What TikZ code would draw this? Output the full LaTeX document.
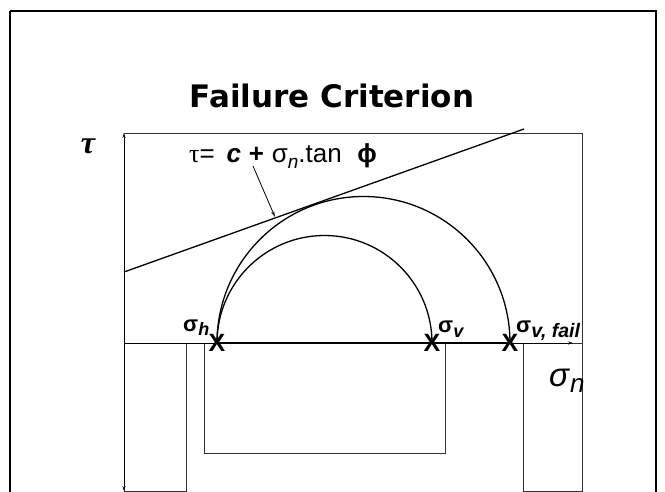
\documentclass[tikz,border=0pt]{standalone}
\usepackage{fontspec}
\setmainfont{Liberation Sans}
\newfontfamily\titlefont{DejaVu Sans}
\newfontfamily\seriffont{Liberation Serif}
\usetikzlibrary{arrows.meta}
\tikzset{
  frame/.style={line width=2.6pt,black},
  thin/.style={line width=0.7pt,black!80},
  axisline/.style={line width=0.9pt,black},
  curve/.style={line width=1.3pt,black},
  xmark/.style={font=\bfseries\fontsize{25}{25}\selectfont,inner sep=0pt},
  lbl/.style={font=\bfseries\fontsize{22}{22}\selectfont,inner sep=0pt,anchor=base west},
}
\begin{document}
\begin{tikzpicture}[x=1pt,y=-1pt]
\useasboundingbox (0,0) rectangle (665,492);
% frame
\draw[frame] (10,11) -- (656,11) -- (656,505);
\draw[frame] (10,11) -- (10,505);
% title
\node (title) at (332,96) {\titlefont\bfseries\fontsize{31}{31}\selectfont Failure Criterion};
% coordinates
\coordinate (O) at (124,343);
\coordinate (Ttop) at (124,133);
\coordinate (Tbot) at (124,491);
\coordinate (Send) at (573,343);
\coordinate (H) at (217,343);
\coordinate (V) at (432,343);
\coordinate (F) at (510,343);
% background boxes
\draw[thin] (Ttop) -- (582,133) -- (582,491);
\draw[thin] (124,343) rectangle (186,491);
\draw[thin] (204,343) rectangle (445,453);
\draw[thin] (523,343) rectangle (582,491);
% axes
\draw[axisline,{Stealth[length=5pt,width=3pt]}-{Stealth[length=5pt,width=3pt]}] (Ttop) -- (Tbot);
\draw[axisline,-{Stealth[length=5pt,width=3pt]}] (O) -- (Send);
\draw[line width=1.6pt] (H) -- (F);
% circles
\draw[curve] (H) arc[start angle=180,end angle=360,radius=107.5];
\draw[curve] (H) arc[start angle=180,end angle=360,radius=146.5];
% failure envelope
\coordinate (L0) at (124,272);
\coordinate (L1) at (524,129);
\draw[curve] (L0) -- (L1);
% labels
\node (tau) at (88,146) {\seriffont\bfseries\itshape\fontsize{32}{32}\selectfont τ};
\node[inner sep=0pt,anchor=base west] (eq) at (189,163) {\fontsize{26}{26}\selectfont {\seriffont τ}=\hspace{0.45em}\textbf{\textit{c}}\hspace{0.3em}\textbf{+}\hspace{0.3em}σ\raisebox{-0.4ex}{\textit{\fontsize{19}{19}\selectfont n}}.tan\hspace{0.6em}\textbf{ϕ}};
\coordinate (tp) at (275,217);
\draw[line width=0.8pt,-{Stealth[length=6pt,width=3pt]}] (253,166) -- (tp);
\node[xmark] (xh) at (H) {X};
\node[xmark] (xv) at (V) {X};
\node[xmark] (xf) at (F) {X};
\node[lbl] (sh) at (183,331) {σ\raisebox{-0.4ex}{\textit{\fontsize{18}{18}\selectfont h}}};
\node[lbl] (sv) at (438,333) {σ\raisebox{-0.4ex}{\textit{\fontsize{18}{18}\selectfont v}}};
\node[lbl] (sf) at (516,333) {σ\raisebox{-0.4ex}{\textit{\fontsize{19.5}{19.5}\selectfont v, fail}}};
\node[inner sep=0pt,anchor=base west] (sn) at (549,386) {\fontsize{33}{33}\selectfont\textit{σ}\raisebox{-0.4ex}{\textit{\fontsize{26}{26}\selectfont n}}};
\end{tikzpicture}
\end{document}
